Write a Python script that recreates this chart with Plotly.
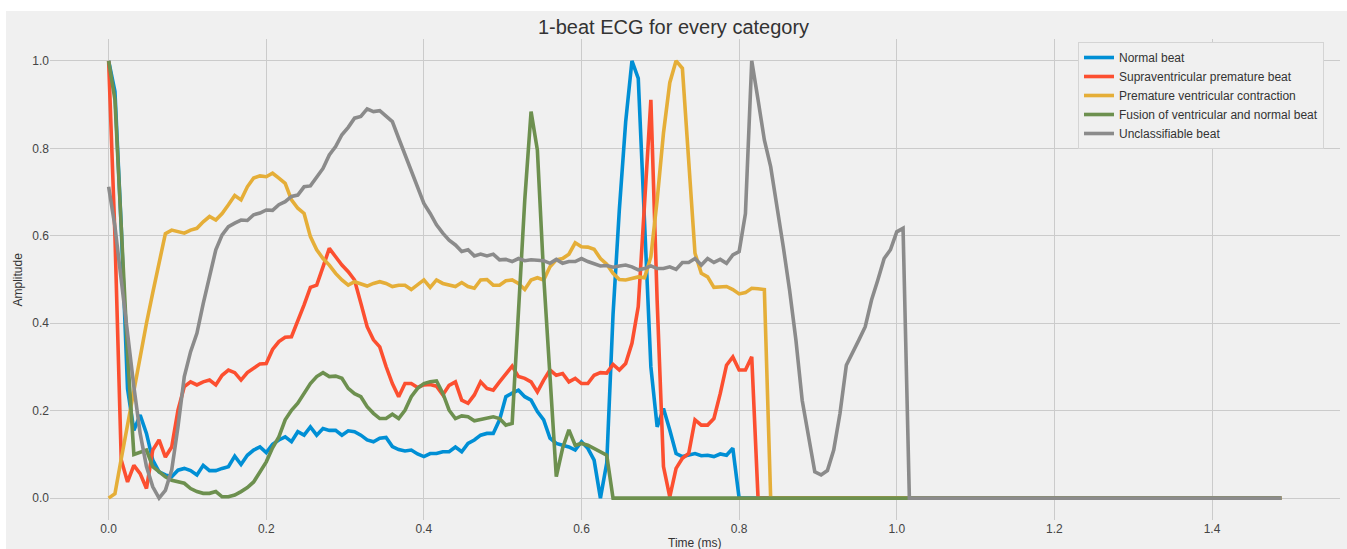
import numpy as np
import plotly.graph_objects as go

SAMPLE_RATE = 125  # Hz, 187 samples per beat

normal_beat = [
    1.0, 0.93, 0.62, 0.25, 0.155, 0.19, 0.148, 0.087, 0.060, 0.053,
    0.049, 0.064, 0.068, 0.063, 0.053, 0.075, 0.063, 0.063, 0.068, 0.072,
    0.096, 0.077, 0.098, 0.110, 0.117, 0.104, 0.123, 0.133, 0.140, 0.129,
    0.152, 0.144, 0.163, 0.144, 0.159, 0.155, 0.155, 0.144, 0.154, 0.152,
    0.144, 0.133, 0.129, 0.137, 0.139, 0.118, 0.111, 0.108, 0.110, 0.101,
    0.095, 0.102, 0.102, 0.106, 0.106, 0.117, 0.106, 0.125, 0.133, 0.144,
    0.148, 0.148, 0.179, 0.232, 0.240, 0.247, 0.232, 0.224, 0.198, 0.179,
    0.137, 0.125, 0.121, 0.117, 0.110, 0.129, 0.114, 0.087, 0.0, 0.08,
    0.42, 0.66, 0.86, 1.0, 0.96, 0.65, 0.30, 0.163, 0.205, 0.156,
    0.102, 0.095, 0.098, 0.102, 0.097, 0.098, 0.095, 0.101, 0.098, 0.114,
    0, 0, 0, 0, 0, 0, 0, 0, 0, 0, 0, 0, 0, 0, 0, 0, 0, 0, 0, 0,
    0, 0, 0, 0, 0, 0, 0, 0, 0, 0, 0, 0, 0, 0, 0, 0, 0, 0, 0, 0,
    0, 0, 0, 0, 0, 0, 0, 0, 0, 0, 0, 0, 0, 0, 0, 0, 0, 0, 0, 0,
    0, 0, 0, 0, 0, 0, 0, 0, 0, 0, 0, 0, 0, 0, 0, 0, 0, 0, 0, 0,
    0, 0, 0, 0, 0, 0, 0,
]

supraventricular = [
    1.0, 0.60, 0.087, 0.037, 0.075, 0.056, 0.022, 0.11, 0.133, 0.094,
    0.117, 0.201, 0.255, 0.266, 0.259, 0.266, 0.270, 0.259, 0.281, 0.293,
    0.287, 0.270, 0.287, 0.297, 0.307, 0.308, 0.340, 0.358, 0.368, 0.369,
    0.404, 0.442, 0.482, 0.487, 0.529, 0.571, 0.552, 0.533, 0.518, 0.499,
    0.446, 0.392, 0.362, 0.346, 0.301, 0.262, 0.232, 0.262, 0.262, 0.253,
    0.259, 0.260, 0.256, 0.236, 0.258, 0.266, 0.224, 0.217, 0.236, 0.266,
    0.251, 0.247, 0.266, 0.285, 0.302, 0.278, 0.274, 0.266, 0.243, 0.270,
    0.293, 0.281, 0.285, 0.266, 0.274, 0.262, 0.262, 0.281, 0.287, 0.286,
    0.306, 0.293, 0.308, 0.354, 0.438, 0.674, 0.911, 0.45, 0.072, 0.003,
    0.068, 0.091, 0.102, 0.179, 0.167, 0.167, 0.182, 0.239, 0.304, 0.323,
    0.293, 0.293, 0.323,
    0, 0, 0, 0, 0, 0, 0, 0, 0, 0, 0, 0, 0, 0, 0, 0, 0, 0, 0, 0,
    0, 0, 0, 0, 0, 0, 0, 0, 0, 0, 0, 0, 0, 0, 0, 0, 0, 0, 0, 0,
    0, 0, 0, 0, 0, 0, 0, 0, 0, 0, 0, 0, 0, 0, 0, 0, 0, 0, 0, 0,
    0, 0, 0, 0, 0, 0, 0, 0, 0, 0, 0, 0, 0, 0, 0, 0, 0, 0, 0, 0,
    0, 0, 0, 0,
]

premature_ventricular = [
    0.0, 0.01, 0.09, 0.17, 0.25, 0.32, 0.40, 0.47, 0.54, 0.605,
    0.613, 0.609, 0.606, 0.613, 0.617, 0.632, 0.644, 0.636, 0.651, 0.671,
    0.692, 0.682, 0.712, 0.732, 0.737, 0.735, 0.743, 0.732, 0.720, 0.682,
    0.663, 0.651, 0.598, 0.568, 0.548, 0.533, 0.514, 0.499, 0.487, 0.495,
    0.491, 0.485, 0.491, 0.495, 0.491, 0.484, 0.487, 0.487, 0.477, 0.487,
    0.499, 0.482, 0.499, 0.491, 0.487, 0.484, 0.493, 0.484, 0.480, 0.499,
    0.500, 0.487, 0.487, 0.497, 0.499, 0.491, 0.477, 0.499, 0.504, 0.499,
    0.529, 0.545, 0.548, 0.558, 0.584, 0.575, 0.574, 0.569, 0.548, 0.535,
    0.514, 0.500, 0.499, 0.503, 0.506, 0.504, 0.552, 0.682, 0.835, 0.95,
    1.0, 0.983, 0.774, 0.56, 0.514, 0.506, 0.482, 0.482, 0.484, 0.477,
    0.467, 0.470, 0.480, 0.479, 0.477,
    0, 0, 0, 0, 0, 0, 0, 0, 0, 0, 0, 0, 0, 0, 0, 0, 0, 0, 0, 0,
    0, 0, 0, 0, 0, 0, 0, 0, 0, 0, 0, 0, 0, 0, 0, 0, 0, 0, 0, 0,
    0, 0, 0, 0, 0, 0, 0, 0, 0, 0, 0, 0, 0, 0, 0, 0, 0, 0, 0, 0,
    0, 0, 0, 0, 0, 0, 0, 0, 0, 0, 0, 0, 0, 0, 0, 0, 0, 0, 0, 0,
    0, 0,
]

fusion = [
    1.0, 0.911, 0.62, 0.33, 0.10, 0.105, 0.11, 0.072, 0.060, 0.049,
    0.041, 0.037, 0.034, 0.022, 0.015, 0.011, 0.011, 0.015, 0.003, 0.003,
    0.007, 0.015, 0.024, 0.037, 0.060, 0.083, 0.115, 0.140, 0.179, 0.201,
    0.217, 0.239, 0.262, 0.278, 0.287, 0.278, 0.279, 0.274, 0.251, 0.239,
    0.232, 0.209, 0.194, 0.182, 0.182, 0.192, 0.182, 0.201, 0.232, 0.251,
    0.262, 0.266, 0.268, 0.240, 0.201, 0.182, 0.188, 0.186, 0.177, 0.180,
    0.182, 0.186, 0.182, 0.167, 0.171, 0.415, 0.682, 0.884, 0.796, 0.508,
    0.262, 0.049, 0.114, 0.156, 0.121, 0.125, 0.121, 0.114, 0.106, 0.098,
    0, 0, 0, 0, 0, 0, 0, 0, 0, 0, 0, 0, 0, 0, 0, 0, 0, 0, 0, 0,
    0, 0, 0, 0, 0, 0, 0, 0, 0, 0, 0, 0, 0, 0, 0, 0, 0, 0, 0, 0,
    0, 0, 0, 0, 0, 0, 0, 0, 0, 0, 0, 0, 0, 0, 0, 0, 0, 0, 0, 0,
    0, 0, 0, 0, 0, 0, 0, 0, 0, 0, 0, 0, 0, 0, 0, 0, 0, 0, 0, 0,
    0, 0, 0, 0, 0, 0, 0, 0, 0, 0, 0, 0, 0, 0, 0, 0, 0, 0, 0, 0,
    0, 0, 0, 0, 0, 0, 0,
]

unclassifiable = [
    0.712, 0.621, 0.499, 0.369, 0.255, 0.148, 0.072, 0.026, 0.0, 0.018,
    0.064, 0.163, 0.278, 0.335, 0.377, 0.445, 0.510, 0.568, 0.602, 0.621,
    0.629, 0.636, 0.635, 0.648, 0.652, 0.659, 0.658, 0.671, 0.678, 0.690,
    0.693, 0.712, 0.714, 0.735, 0.754, 0.785, 0.804, 0.831, 0.848, 0.869,
    0.873, 0.890, 0.884, 0.886, 0.874, 0.861, 0.823, 0.785, 0.747, 0.709,
    0.674, 0.651, 0.625, 0.606, 0.590, 0.579, 0.564, 0.568, 0.554, 0.558,
    0.554, 0.558, 0.545, 0.546, 0.541, 0.548, 0.543, 0.545, 0.543, 0.543,
    0.537, 0.546, 0.537, 0.541, 0.541, 0.548, 0.541, 0.537, 0.531, 0.532,
    0.528, 0.531, 0.533, 0.529, 0.522, 0.525, 0.531, 0.525, 0.525, 0.529,
    0.523, 0.539, 0.539, 0.548, 0.533, 0.548, 0.539, 0.546, 0.537, 0.556,
    0.564, 0.651, 1.0, 0.911, 0.819, 0.758, 0.67, 0.575, 0.476, 0.362,
    0.224, 0.137, 0.060, 0.053, 0.063, 0.110, 0.194, 0.304, 0.331, 0.362,
    0.392, 0.453, 0.499, 0.548, 0.568, 0.609, 0.617,
    0, 0, 0, 0, 0, 0, 0, 0, 0, 0, 0, 0, 0, 0, 0, 0, 0, 0, 0, 0,
    0, 0, 0, 0, 0, 0, 0, 0, 0, 0, 0, 0, 0, 0, 0, 0, 0, 0, 0, 0,
    0, 0, 0, 0, 0, 0, 0, 0, 0, 0, 0, 0, 0, 0, 0, 0, 0, 0, 0, 0,
]

series_names = [
    "Normal beat",
    "Supraventricular premature beat",
    "Premature ventricular contraction",
    "Fusion of ventricular and normal beat",
    "Unclassifiable beat",
]
series_values = [normal_beat, supraventricular, premature_ventricular, fusion, unclassifiable]
colors = ["#008fd5", "#fc4f30", "#e5ae38", "#6d904f", "#8b8b8b"]

x_ticks = [0.0, 0.2, 0.4, 0.6, 0.8, 1.0, 1.2, 1.4]
y_ticks = [0.0, 0.2, 0.4, 0.6, 0.8, 1.0]

n = len(normal_beat)
time = np.arange(n) / SAMPLE_RATE

fig = go.Figure()
for name, vals, col in zip(series_names, series_values, colors):
    fig.add_trace(go.Scatter(x=time[:len(vals)], y=vals, mode="lines", name=name,
                             line=dict(color=col, width=3.6)))

W, H = 1347, 549
ml, mr, mt, mb = 50, 7, 39, 29
BG = "#f0f0f0"

fig.update_layout(
    width=W, height=H,
    margin=dict(l=ml, r=mr, t=mt, b=mb, autoexpand=False),
    paper_bgcolor="white",
    plot_bgcolor=BG,
    font=dict(family="Liberation Sans, Arial, sans-serif", size=12, color="#444"),
    title=dict(text="1-beat ECG for every category", x=0.5, xref="container", xanchor="center",
               y=1 - 27 / H, yref="container", yanchor="middle",
               font=dict(size=20, color="#333")),
    showlegend=True,
    legend=dict(x=(1078 - ml) / (W - ml - mr), y=(H - mb - 42) / (H - mt - mb),
                xanchor="left", yanchor="top",
                bgcolor=BG, bordercolor="#d4d4d4", borderwidth=1,
                font=dict(size=12, color="#333"), tracegroupgap=0),
    shapes=[dict(type="rect", xref="paper", yref="paper", layer="below",
                 x0=(6 - ml) / (W - ml - mr), x1=(W - ml) / (W - ml - mr),
                 y0=-(mb) / (H - mt - mb), y1=(H - mb - 11) / (H - mt - mb),
                 fillcolor=BG, line=dict(width=0))],
    annotations=[
        dict(text="Time (ms)", xref="paper", yref="paper", x=0.5, y=-(543 - (H - mb)) / (H - mt - mb),
             xanchor="center", yanchor="middle", showarrow=False, font=dict(size=12, color="#333")),
        dict(text="Amplitude", xref="paper", yref="paper", x=(17 - ml) / (W - ml - mr), y=0.5,
             xanchor="center", yanchor="middle", textangle=-90, showarrow=False,
             font=dict(size=12, color="#333")),
    ],
)
fig.update_xaxes(range=[-0.0744, 1.5624], tickvals=x_ticks, ticktext=[f"{v:.1f}" for v in x_ticks],
                 showgrid=True, gridcolor="#cbcbcb", gridwidth=1, zeroline=False, showline=False,
                 ticks="", automargin=False, tickfont=dict(size=12, color="#444"))
fig.update_yaxes(range=[-0.05, 1.05], tickvals=y_ticks, ticktext=[f"{v:.1f}" for v in y_ticks],
                 showgrid=True, gridcolor="#cbcbcb", gridwidth=1, zeroline=False, showline=False,
                 ticks="", automargin=False, tickfont=dict(size=12, color="#444"))

fig.write_html("out.html", config={"displayModeBar": False},
               post_script="document.body.style.margin='0';")
